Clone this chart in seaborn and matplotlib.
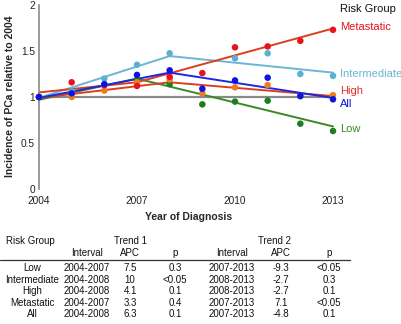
import numpy as np
import pandas as pd
import matplotlib
matplotlib.use("Agg")
import matplotlib.pyplot as plt
import seaborn as sns

# ---------------- data ----------------
years = list(range(2004, 2014))
low = [1.00, 1.04, 1.13, 1.19, 1.14, 0.92, 0.95, 0.96, 0.71, 0.63]
intermediate = [1.00, 1.06, 1.20, 1.35, 1.475, np.nan, 1.42, 1.475, 1.25, 1.23]
high = [1.00, 1.00, 1.07, 1.16, 1.19, 1.04, 1.105, 1.13, 1.01, 1.02]
metastatic = [1.00, 1.16, 1.13, 1.12, 1.22, 1.26, 1.54, 1.55, 1.61, 1.73]
all_groups = [1.00, 1.04, 1.14, 1.24, 1.29, 1.09, 1.18, 1.21, 1.01, 0.975]

# joinpoint fitted trend knots
low_fit_years = [2004, 2007, 2013]
low_fit = [0.97, 1.20, 0.68]
int_fit_years = [2004, 2008, 2013]
int_fit = [0.99, 1.445, 1.265]
high_fit_years = [2004, 2008, 2013]
high_fit = [0.99, 1.16, 1.01]
met_fit_years = [2004, 2007, 2013]
met_fit = [1.05, 1.16, 1.745]
all_fit_years = [2004, 2008, 2013]
all_fit = [0.99, 1.265, 0.99]

groups = ["Low", "Intermediate", "High", "Metastatic", "All"]
xticks = [2004, 2007, 2010, 2013]
yticks = [0, 0.5, 1, 1.5, 2]
ytick_labels = ["0", "0.5", "1", "1.5", "2"]

# table
tbl_groups = ["Low", "Intermediate", "High", "Metastatic", "All"]
tbl_int1 = ["2004-2007", "2004-2008", "2004-2008", "2004-2007", "2004-2008"]
tbl_apc1 = ["7.5", "10", "4.1", "3.3", "6.3"]
tbl_p1 = ["0.3", "<0.05", "0.1", "0.4", "0.1"]
tbl_int2 = ["2007-2013", "2008-2013", "2008-2013", "2007-2013", "2007-2013"]
tbl_apc2 = ["-9.3", "-2.7", "-2.7", "7.1", "-4.8"]
tbl_p2 = ["<0.05", "0.3", "0.1", "<0.05", "0.1"]

# ---------------- styling ----------------
dot_colors = {"Low": "#1e7d1e", "Intermediate": "#5cb0d0", "High": "#f07a1e",
              "Metastatic": "#e8141c", "All": "#0a14e6"}
line_colors = {"Low": "#3a8a22", "Intermediate": "#6ab6d6", "High": "#d8401e",
               "Metastatic": "#d8401e", "All": "#1e28e0"}
label_colors = {"Low": "#3a8a22", "Intermediate": "#6ab6d6", "High": "#e0302a",
                "Metastatic": "#e0141c", "All": "#0a14e6"}
label_y = {"Metastatic": 1.765, "Intermediate": 1.25, "High": 1.07, "All": 0.92, "Low": 0.65}

sns.set_style("white")
plt.rcParams["font.family"] = ["Liberation Sans", "DejaVu Sans"]

W, H = 401, 324
fig = plt.figure(figsize=(W / 100, H / 100), dpi=100)
ax_l, ax_r, ax_t, ax_b = 39, 333, 5, 189
ax = fig.add_axes([ax_l / W, 1 - ax_b / H, (ax_r - ax_l) / W, (ax_b - ax_t) / H])

pts = pd.DataFrame({
    "year": years * 5,
    "value": low + intermediate + high + metastatic + all_groups,
    "group": sum([[g] * len(years) for g in groups], []),
})
fits = pd.DataFrame({
    "year": low_fit_years + int_fit_years + high_fit_years + met_fit_years + all_fit_years,
    "value": low_fit + int_fit + high_fit + met_fit + all_fit,
    "group": sum([[g] * 3 for g in groups], []),
})

ax.axhline(1, xmin=0, xmax=1, color="#8a8a8a", lw=1.6, zorder=1)
sns.lineplot(data=fits, x="year", y="value", hue="group", hue_order=groups,
             palette=line_colors, lw=1.4, legend=False, ax=ax, zorder=2)
sns.scatterplot(data=pts.dropna(), x="year", y="value", hue="group", hue_order=groups,
                palette=dot_colors, s=22, linewidth=0, legend=False, ax=ax, zorder=3)
for c in ax.collections + ax.lines:
    c.set_clip_on(False)

ax.set_xlim(2004, 2013)
ax.set_ylim(0, 2)
ax.set_xticks(xticks)
ax.set_xticklabels([str(t) for t in xticks])
ax.set_yticks(yticks)
ax.set_yticklabels(ytick_labels)
ax.tick_params(axis="both", length=0, labelsize=7.3, colors="#222222")
ax.tick_params(axis="x", pad=5)
ax.tick_params(axis="y", pad=3)
for s in ["top", "right", "bottom"]:
    ax.spines[s].set_visible(False)
ax.spines["left"].set_color("#8a8a8a")
ax.spines["left"].set_linewidth(1.2)
ax.spines["left"].set_bounds(-0.005, 2)

ax.set_xlabel("Year of Diagnosis", fontsize=7.5, fontweight="bold")
ax.set_ylabel("Incidence of PCa relative to 2004", fontsize=7.5, fontweight="bold")
ax.xaxis.set_label_coords((189 - ax_l) / (ax_r - ax_l), (ax_b - 217) / (ax_b - ax_t))
ax.yaxis.set_label_coords((10 - ax_l) / (ax_r - ax_l), (ax_b - 96.5) / (ax_b - ax_t))
ax.xaxis.label.set_va("center")
ax.yaxis.label.set_va("center")

ax.text(2013.2, 1.953, "Risk Group", fontsize=8, color="#111111", va="center", ha="left")
for g in groups:
    ax.text(2013.22, label_y[g], g, fontsize=8, color=label_colors[g], va="center", ha="left")

# ---------------- table ----------------
def ft(x, y, s, ha="center", **kw):
    fig.text(x / W, 1 - y / H, s, ha=ha, va="center", fontsize=7, color="#111111", **kw)

ft(6, 241, "Risk Group", ha="left")
ft(131, 241, "Trend 1")
ft(274, 241, "Trend 2")
col_x = [86.5, 130, 175, 232, 281, 329]
for x, h in zip(col_x, ["Interval", "APC", "p", "Interval", "APC", "p"]):
    ft(x, 252.5, h)
fig.add_artist(plt.Line2D([0, 350 / W], [1 - 260 / H, 1 - 260 / H], color="#333333", lw=0.9))
for i in range(len(tbl_groups)):
    y = 268 + 11.6 * i
    ft(32, y, tbl_groups[i])
    for x, s in zip(col_x, [tbl_int1[i], tbl_apc1[i], tbl_p1[i], tbl_int2[i], tbl_apc2[i], tbl_p2[i]]):
        ft(x, y, s)

fig.savefig("out.png", dpi=100)
